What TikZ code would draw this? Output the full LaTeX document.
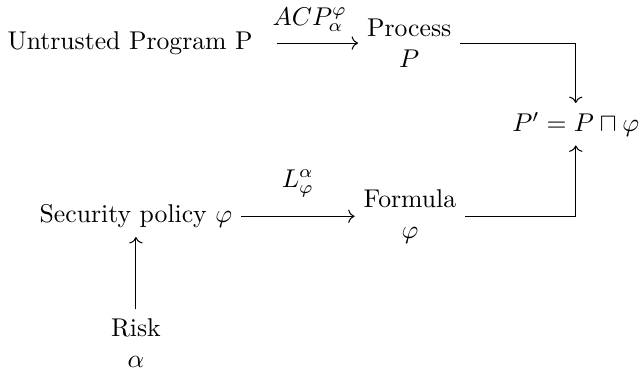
\documentclass[tikz,border=0pt]{standalone}
\usepackage{amssymb}
\usetikzlibrary{arrows.meta}

\begin{document}
\begin{tikzpicture}[every node/.style={align=center}]
        \useasboundingbox (0,0) rectangle (8.80,-5.17);

        % uzly
        \node (untrusted) at (1.78,-0.59) {Untrusted Program P};
        \node (process) at (5.60,-0.59) {Process\\ $P$};
        \node (pp) at (7.88,-1.70) {$P' = P \sqcap \varphi$};
        \node (policy) at (1.86,-2.96) {Security policy $\varphi$};
        \node (formula) at (5.61,-2.96) {Formula\\ $\varphi$};
        \node (risk) at (1.86,-4.69) {Risk\\ $\alpha$};

        % sipky
        \draw[->, shorten <=6pt] (untrusted) -- node[above=4.3pt, inner sep=0pt] {$ACP_\alpha^\varphi$} (process);
        \draw[->] (process) -| (pp);
        \draw[->] (policy) -- node[above=7.3pt, inner sep=0pt] {$L_\varphi^\alpha$} (formula);
        \draw[->] (formula) -| (pp);
        \draw[->] (risk) -- (policy);

    \end{tikzpicture}
\end{document}
